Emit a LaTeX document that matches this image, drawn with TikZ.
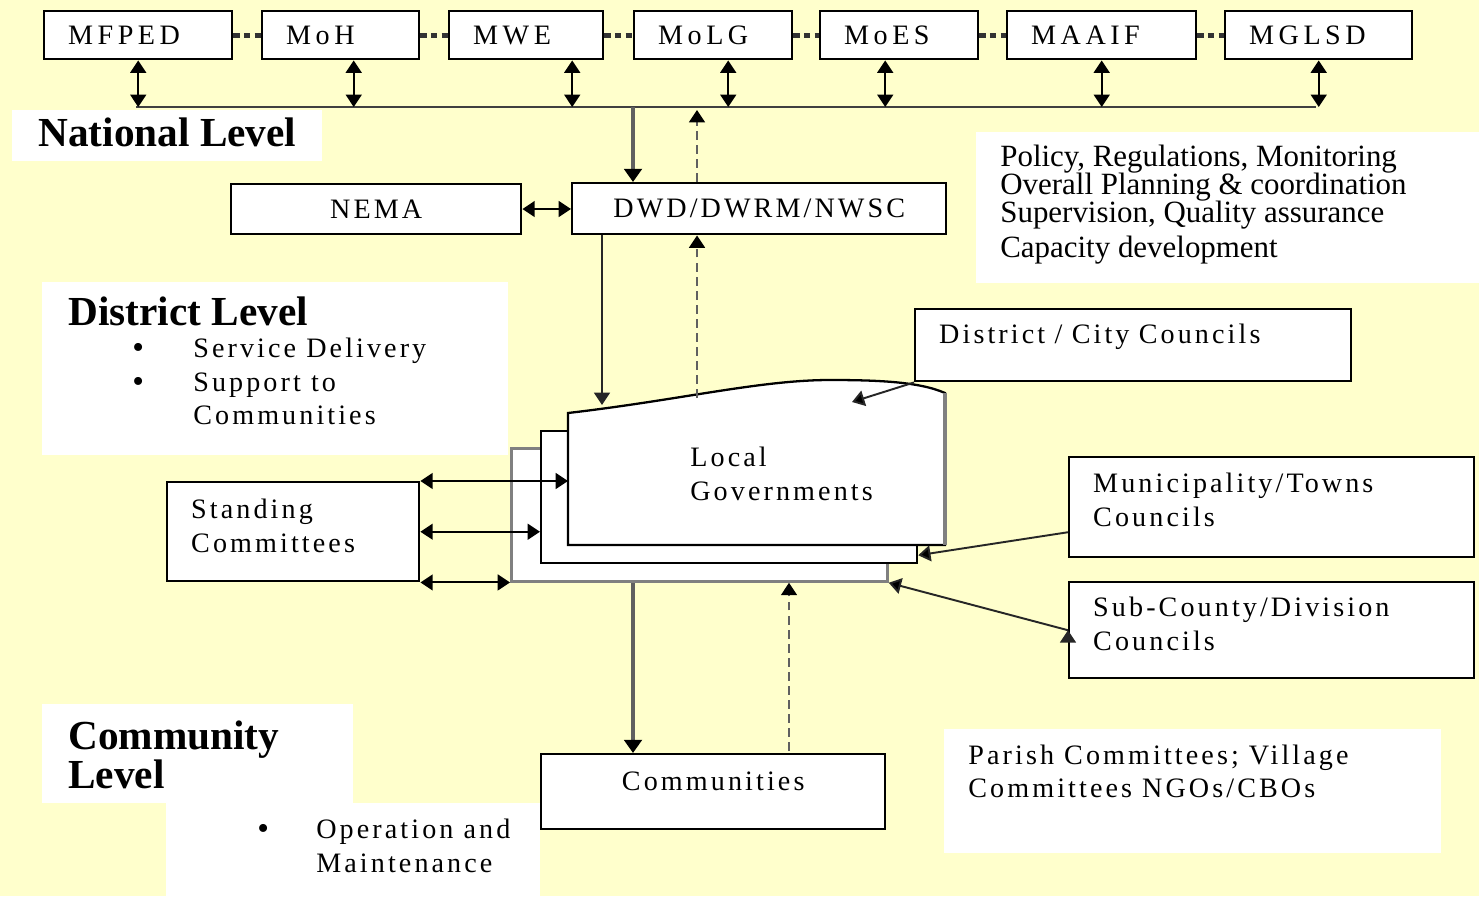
\documentclass[tikz,border=0pt]{standalone}
\usepackage{fontspec}
\setmainfont{Liberation Serif}
\newfontfamily\widefont[LetterSpace=16]{Liberation Serif}
\newfontfamily\midfont[LetterSpace=11]{Liberation Serif}
\usetikzlibrary{arrows.meta}
\definecolor{bgyellow}{RGB}{255,255,204}
\definecolor{linegray}{RGB}{96,96,96}
\definecolor{shadegray}{RGB}{128,128,128}
\newcommand{\bigdot}{\raisebox{-0.6pt}{\fontsize{19}{19}\selectfont\textbullet}}
\newcommand{\tightlines}{\lineskiplimit=-20pt\relax}

\begin{document}
\begin{tikzpicture}[x=0.02cm, y=-0.02cm,
            box/.style={draw, line width=1.4pt, fill=white,
                anchor=north west, align=left,
                inner xsep=0.48cm, inner ysep=0pt,
                font=\midfont\fontsize{16}{19.3}\selectfont},
            topbox/.style={box, minimum height=0.96cm,
                font=\widefont\fontsize{16}{19.3}\selectfont},
            txt/.style={anchor=north west, inner sep=0pt, align=left},
            head/.style={txt, font=\bfseries\fontsize{23.5}{22.7}\selectfont},
            panel/.style={fill=white},
            dots/.style={line width=2.6pt, draw=black!80,
                dash pattern=on 3.5pt off 2.5pt},
            dbl/.style={{Triangle[length=7pt,width=9pt]}-{Triangle[length=7pt,width=9pt]},
                line width=1.1pt},
            arr/.style={-{Triangle[length=7pt,width=9pt]}, line width=1.1pt,
                draw=black!85},
            thickarr/.style={-{Triangle[length=7.5pt,width=10pt,black]},
                line width=2.8pt, draw=linegray},
            dasharr/.style={-{Triangle[length=7pt,width=9pt,black]},
                line width=1.1pt, draw=linegray, dash pattern=on 5pt off 3pt}]

        \useasboundingbox (0,0) rectangle (1479,896);
        \fill[bgyellow] (0,0) rectangle (1479,896);

        % White panels behind the level texts
        \fill[panel] (12,110) rectangle (322,161);
        \fill[panel] (976,132) rectangle (1479,283);
        \fill[panel] (42,282) rectangle (508,455);
        \fill[panel] (42,704) rectangle (353,803);
        \fill[panel] (166,803) rectangle (540,896);
        \fill[panel] (944,729) rectangle (1441,853);

        % Ministries
        \node (mfped) [topbox, text width=2.8cm] at (43,10) {MFPED};
        \node (moh) [topbox, text width=2.18cm] at (261,10) {MoH};
        \node (mwe) [topbox, text width=2.12cm] at (448,10) {MWE};
        \node (molg) [topbox, text width=2.2cm] at (633,10) {MoLG};
        \node (moes) [topbox, text width=2.2cm] at (819,10) {MoES};
        \node (maaif) [topbox, text width=2.82cm] at (1006,10) {MAAIF};
        \node (mglsd) [topbox, text width=2.78cm] at (1224,10) {MGLSD};

        % Bus line
        \coordinate (busL) at (136,107);
        \coordinate (busR) at (1316,107);
        \coordinate (busdown) at (633,107);
        \coordinate (busup) at (697,110);
        \draw[line width=1.3pt, draw=black!75] (busL) -- (busR);

        % National level
        \node (national) [head] at (38,117) {National Level};
        \node (nema) [box, align=center, text width=4.84cm,
            minimum height=1cm] at (230,183) {NEMA};
        \node (dwd) [box, align=center, text width=6.52cm,
            minimum height=1.02cm] at (571,182) {DWD/DWRM/NWSC};
        \node (policy) [txt, font=\fontsize{17.6}{15.9}\selectfont\tightlines]
            at (1000,145)
            {Policy, Regulations, Monitoring\\
             Overall Planning \& coordination\\
             Supervision, Quality assurance\\[4pt]
             Capacity development};

        % District level
        \node (district) [head] at (68,296) {District Level};
        \node (dlist) [txt, font=\midfont\fontsize{16}{19.3}\selectfont] at (132,333)
            {\begin{tabular}{@{}p{1.22cm}@{}l@{}}
             \bigdot & Service Delivery\\
             \bigdot & Support to\\
                     & Communities
             \end{tabular}};
        \node (dcc) [box, text width=7.76cm, minimum height=1.44cm,
            text depth=0.45cm] at (914,308) {District / City Councils};
        \node (mun) [box, text width=7.14cm, minimum height=2cm,
            text depth=0.96cm] at (1068,456) {Municipality/Towns\\Councils};
        \node (sub) [box, text width=7.14cm, minimum height=1.92cm,
            text depth=0.92cm] at (1068,581) {Sub-County/Division\\Councils};
        \node (stand) [box, text width=4.08cm, minimum height=1.98cm,
            text depth=0.92cm] at (166,481) {Standing\\Committees};

        % Local governments (stacked sheets)
        \node (lgback) [draw=shadegray, line width=1.6pt, fill=white,
            anchor=north west, inner sep=0pt,
            minimum width=7.52cm, minimum height=2.66cm] at (510,447) {};
        \node (lgmid) [draw, line width=1.3pt, fill=white,
            anchor=north west, inner sep=0pt,
            minimum width=7.52cm, minimum height=2.64cm] at (540,430) {};
        \draw[line width=1.3pt, fill=white] (568,545) -- (568,413)
            .. controls (680,400) and (760,380) .. (830,380)
            .. controls (880,380) and (920,382) .. (945,393)
            -- (945,545) -- cycle;
        \draw[line width=1.8pt, draw=shadegray] (945,393) -- (945,545);
        \node (lg) [txt, font=\midfont\fontsize{16}{19.3}\selectfont] at (690,447)
            {Local\\Governments};
        \coordinate (lgfl) at (568,481);
        \coordinate (lgdown) at (602,405);
        \coordinate (lgup) at (697,398);
        \coordinate (dccin) at (852,402);
        \coordinate (cup) at (789,751);

        % Community level
        \node (community) [head] at (68,720) {Community\\Level};
        \node (olist) [txt, font=\midfont\fontsize{16}{19.3}\selectfont] at (257,814)
            {\begin{tabular}{@{}p{1.18cm}@{}l@{}}
             \bigdot & Operation and\\
                     & Maintenance
             \end{tabular}};
        \node (comm) [box, align=center, text width=5.92cm, minimum height=1.5cm,
            text depth=0.42cm] at (540,753) {Communities};
        \node (parish) [txt, font=\midfont\fontsize{16}{18.7}\selectfont] at (968,745)
            {Parish Committees; Village\\Committees NGOs/CBOs};

        % Links between ministries
        \path [dots]
            (mfped) edge (moh)
            (moh) edge (mwe)
            (mwe) edge (molg)
            (molg) edge (moes)
            (moes) edge (maaif)
            (maaif) edge (mglsd);

        % Ministries to bus
        \path [dbl]
            (mfped.south) edge (mfped.south |- busL)
            ([xshift=0.26cm]moh.south) edge ([xshift=0.26cm]moh.south |- busL)
            ([xshift=0.92cm]mwe.south) edge ([xshift=0.92cm]mwe.south |- busL)
            ([xshift=0.3cm]molg.south) edge ([xshift=0.3cm]molg.south |- busL)
            ([xshift=-0.28cm]moes.south) edge ([xshift=-0.28cm]moes.south |- busL)
            (maaif.south) edge (maaif.south |- busL)
            (mglsd.south) edge (mglsd.south |- busL)
            (nema) edge (dwd)
            (stand.north east) edge (stand.north east -| lgfl)
            (stand.east) edge (stand.east -| lgmid.west)
            (stand.south east) edge (stand.south east -| lgback.west);

        % Flows down and up
        \draw[thickarr] (busdown) -- (busdown |- dwd.north);
        \draw[dasharr] (busup |- dwd.north) -- (busup);
        \draw[arr] (dwd.south -| lgdown) -- (lgdown);
        \draw[dasharr] (lgup) -- (dwd.south -| lgup);
        \draw[thickarr] (lgback.south -| busdown) -- (comm.north -| busdown);
        \draw[dasharr] (cup) -- (cup |- lgback.south);

        % Councils to local governments
        \path [arr]
            (dcc.south west) edge (dccin)
            ([yshift=-0.5cm]mun.west) edge ([yshift=0.18cm]lgmid.south east)
            (sub.west) edge (lgback.south east);
        \end{tikzpicture}
\end{document}
